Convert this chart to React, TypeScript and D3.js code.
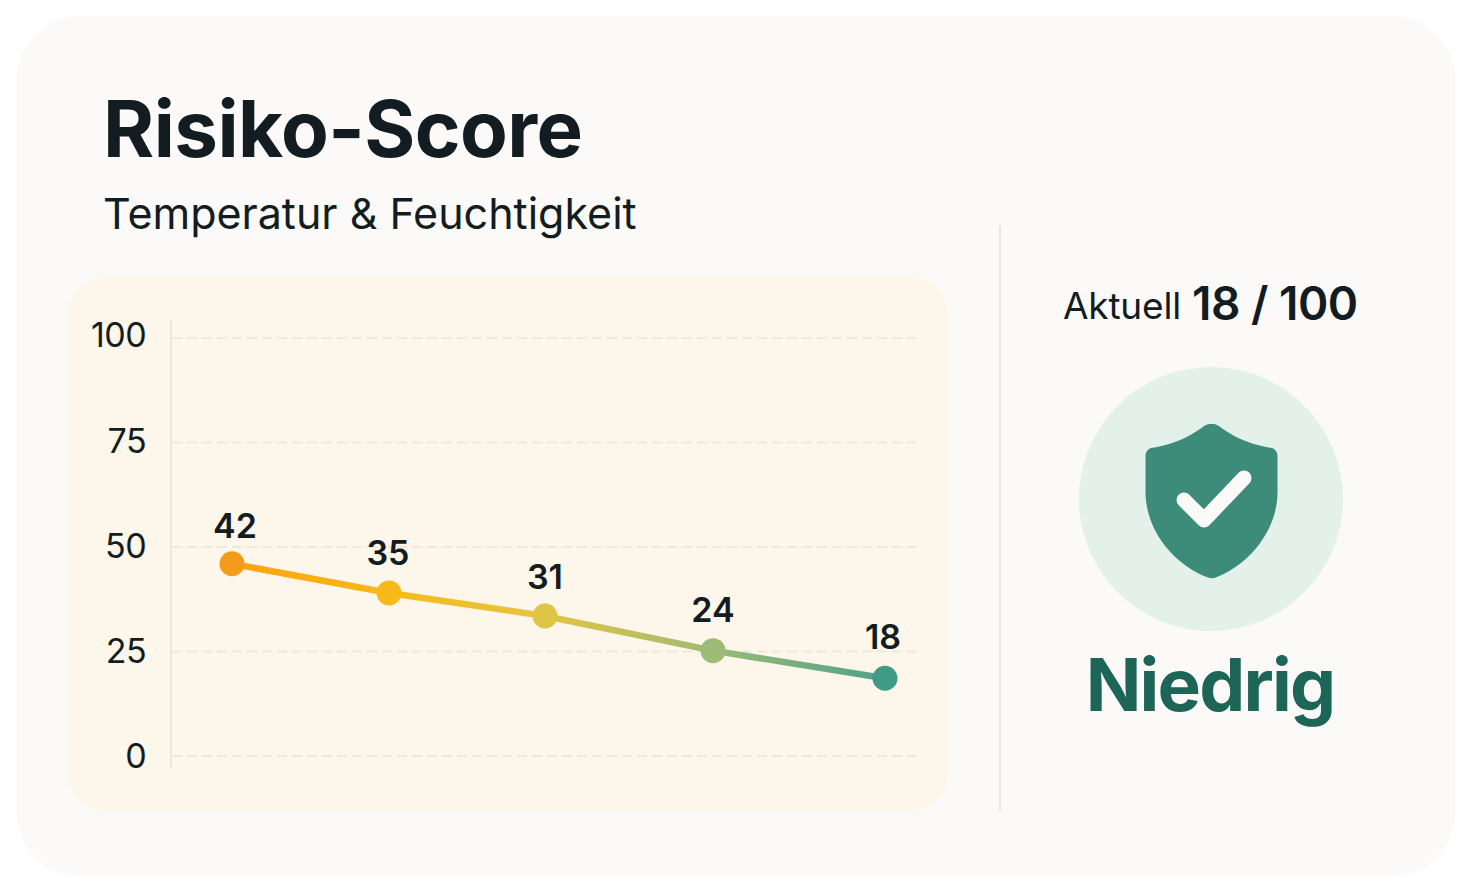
import React from "react";
import * as d3 from "d3";

const yTicks = [0, 25, 50, 75, 100];
const scoreLabels = ["42", "35", "31", "24", "18"];
const plottedValues = [46, 39, 33.5, 25.2, 18.6];
const samplePositions = [0, 157, 313, 481, 653];
const pointColors = ["#F59B1C", "#F8B918", "#DFC545", "#9DBB75", "#3F9B86"];
const lineStops = ["#FBA212", "#F8BA1A", "#E4C541", "#9DBB75", "#4FA08B"];
const labelOffsets = [[3, -26], [-1, -28], [0, -27], [0, -29], [-2, -29]];
const tickNudges = [-5, -6, -6, -7, -8];

const FONT = "Inter, 'Noto Sans', sans-serif";
const INK = "#121C21";

export default function App() {
  const y = d3.scaleLinear().domain([0, 100]).range([756, 338]);
  const x = d3.scaleLinear().domain([0, 653]).range([232, 885]);
  const pts = plottedValues.map((v, i) => [x(samplePositions[i]), y(v)] as [number, number]);
  const line = d3.line()(pts) ?? "";
  return (
    <svg width={1470} height={893} style={{ position: "absolute", left: 0, top: 0, display: "block", fontFamily: FONT }}>
      <defs>
        <linearGradient id="lg" gradientUnits="userSpaceOnUse" x1={x(0)} x2={x(653)} y1={0} y2={0}>
          {lineStops.map((c, i) => (
            <stop key={i} offset={samplePositions[i] / 653} stopColor={c} />
          ))}
        </linearGradient>
      </defs>
      <rect x={0} y={0} width={1470} height={893} fill="#FFFFFF" />
      <rect x={17} y={16} width={1438} height={860} rx={62} fill="#FBFAF8" />
      <text x={103} y={157} fontSize={78} fontWeight={700} fill={INK} letterSpacing={-0.55}>Risiko-Score</text>
      <text x={103} y={229} fontSize={43} fontWeight={400} fill={INK}>Temperatur &amp; Feuchtigkeit</text>

      <rect x={67} y={277} width={881} height={534} rx={38} fill="#FDF6EB" />
      <line x1={171} x2={171} y1={320} y2={768} stroke="#EBE5DB" strokeWidth={2} />
      {yTicks.map((t, i) => (
        <g key={t}>
          <line x1={172} x2={916} y1={y(t)} y2={y(t)} stroke="#EEE8DE" strokeWidth={2} strokeDasharray="10 5" />
          <text x={146} y={y(t) + 17 + tickNudges[i]} textAnchor="end" fontSize={34} fill={INK} letterSpacing={-0.6}>{t}</text>
        </g>
      ))}
      <path d={line} fill="none" stroke="url(#lg)" strokeWidth={6.5} strokeLinecap="round" />
      {pts.map((p, i) => (
        <g key={i}>
          <circle cx={p[0]} cy={p[1]} r={12.5} fill={pointColors[i]} />
          <text x={p[0] + labelOffsets[i][0]} y={p[1] + labelOffsets[i][1]} textAnchor="middle" fontSize={34} fontWeight={600} fill={INK}>
            {scoreLabels[i]}
          </text>
        </g>
      ))}

      <line x1={1000} x2={1000} y1={225} y2={811} stroke="#E9E7E3" strokeWidth={2} />
      <text x={1063} y={319} fontSize={37} fill={INK} letterSpacing={-0.2}>Aktuell</text>
      <text x={1192} y={320} fontSize={46} fontWeight={600} fill={INK} letterSpacing={-0.5}>18 / 100</text>
      <circle cx={1211} cy={499} r={132} fill="#E4F1EB" />
      <path
        d="M1211.5 424 C1206 424 1204 426 1200 429 C1186 439 1167 446 1151 448 C1148 449 1145.500 452 1145.500 456 L1145.500 492 C1145.500 532 1176 566 1208 577.500 C1210.500 578.500 1213 578.500 1215.500 577.500 C1247 566 1277.500 532 1277.500 492 L1277.500 456 C1277.500 452 1275 449 1272 448 C1256 446 1237 439 1223 429 C1219 426 1217 424 1211.500 424 Z"
        fill="#3D8B79"
      />
      <path d="M1184 500 L1204 520 L1244 478" fill="none" stroke="#FAFAF8" strokeWidth={15} strokeLinecap="round" strokeLinejoin="round" />
      <text x={1210} y={711} textAnchor="middle" fontSize={73} fontWeight={700} fill="#1C6557" letterSpacing={-1.8}>Niedrig</text>
    </svg>
  );
}
